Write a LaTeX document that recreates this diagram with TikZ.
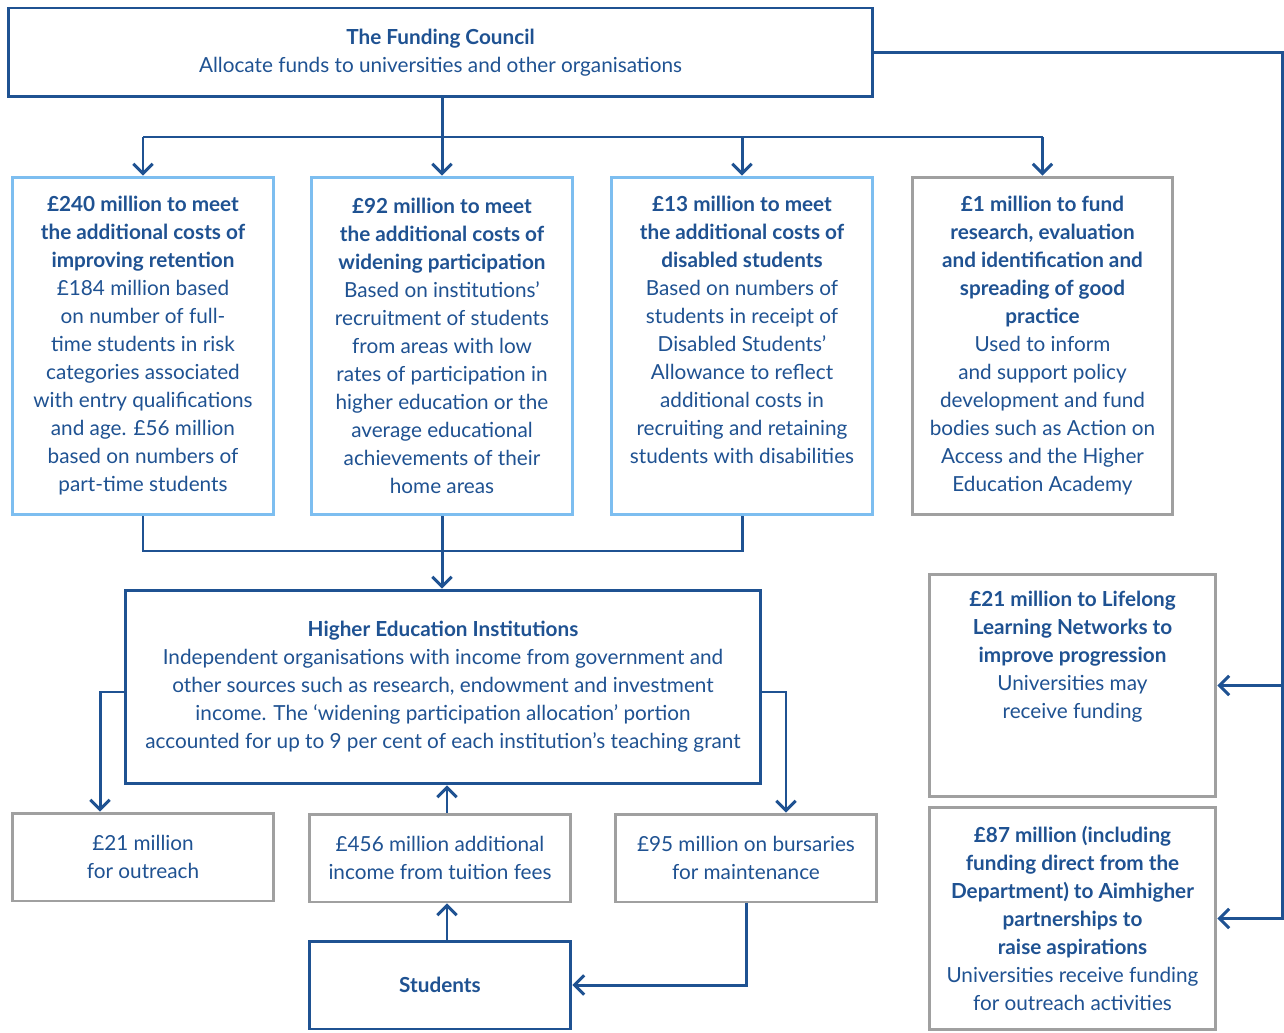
\documentclass[tikz,border=0pt]{standalone}
\usepackage{fontspec}
\setmainfont{Lato}
\usetikzlibrary{arrows.meta, positioning, calc}
\definecolor{hblue}{RGB}{31, 82, 146}
\definecolor{skyblue}{RGB}{125, 190, 240}
\definecolor{boxgrey}{RGB}{160, 160, 160}

\tikzset{
  base/.style={line width=1.7pt, fill=white, align=center, inner sep=0pt, text=hblue,
    font=\fontsize{11.8}{15.93}\selectfont},
  darkbox/.style={base, draw=hblue},
  lightbox/.style={base, draw=skyblue},
  greybox/.style={base, draw=boxgrey},
  txt/.style={align=center, inner sep=0pt, text=hblue, font=\fontsize{11.8}{15.93}\selectfont},
  arr/.style={draw=hblue, line width=1.7pt, -{Straight Barb[length=5.5pt, width=11pt, line width=1.7pt]}},
  link/.style={draw=hblue, line width=1.7pt}
}

\begin{document}
\begin{tikzpicture}[x=0.02cm, y=-0.02cm]
  \useasboundingbox (0,0) rectangle (1284,1033);

  % Funding council
  \node[darkbox, minimum width=17.3cm, minimum height=1.78cm] (fc) at (440.5,52.5)
    {\textbf{The Funding Council}\\Allocate funds to universities and other organisations};

  % Allocation boxes
  \node[lightbox, minimum width=5.24cm, minimum height=6.76cm] (b1) at (143,346)
    {\textbf{£240 million to meet}\\\textbf{the additional costs of}\\\textbf{improving retention}\\
     £184 million based\\on number of full-\\time students in risk\\categories associated\\with entry qualifications\\and age. £56 million\\based on numbers of\\part-time students};
  \node[lightbox, minimum width=5.24cm, minimum height=6.76cm] (b2) at (442,346)
    {\textbf{£92 million to meet}\\\textbf{the additional costs of}\\\textbf{widening participation}\\
     Based on institutions’\\recruitment of students\\from areas with low\\rates of participation in\\higher education or the\\average educational\\achievements of their\\home areas};
  \node[lightbox, minimum width=5.24cm, minimum height=6.76cm] (b3) at (742,346) {};
  \node[txt] (b3t) at (742,330)
    {\textbf{£13 million to meet}\\\textbf{the additional costs of}\\\textbf{disabled students}\\
     Based on numbers of\\students in receipt of\\Disabled Students’\\Allowance to reflect\\additional costs in\\recruiting and retaining\\students with disabilities};
  \node[greybox, minimum width=5.22cm, minimum height=6.76cm] (b4) at (1042.5,346)
    {\textbf{£1 million to fund}\\\textbf{research, evaluation}\\\textbf{and identification and}\\\textbf{spreading of good}\\\textbf{practice}\\
     Used to inform\\and support policy\\development and fund\\bodies such as Action on\\Access and the Higher\\Education Academy};

  % Institutions
  \node[darkbox, minimum width=12.72cm, minimum height=3.88cm] (hei) at (443,687)
    {\textbf{Higher Education Institutions}\\
     Independent organisations with income from government and\\other sources such as research, endowment and investment\\income. The ‘widening participation allocation’ portion\\accounted for up to 9 per cent of each institution’s teaching grant};

  % Spending and income
  \node[greybox, minimum width=5.24cm, minimum height=1.76cm] (outr) at (143,857)
    {£21 million\\for outreach};
  \node[greybox, minimum width=5.24cm, minimum height=1.76cm] (fees) at (440,858)
    {£456 million additional\\income from tuition fees};
  \node[greybox, minimum width=5.24cm, minimum height=1.76cm] (burs) at (746,858)
    {£95 million on bursaries\\for maintenance};
  \node[darkbox, minimum width=5.24cm, minimum height=1.76cm] (stud) at (440,985)
    {\textbf{Students}};

  % Other partnerships
  \node[greybox, minimum width=5.74cm, minimum height=4.46cm] (lln) at (1072.5,685.5) {};
  \node[txt] (llnt) at (1072.5,657)
    {\textbf{£21 million to Lifelong}\\\textbf{Learning Networks to}\\\textbf{improve progression}\\
     Universities may\\receive funding};
  \node[greybox, minimum width=5.74cm, minimum height=4.46cm] (aim) at (1072.5,918.5)
    {\textbf{£87 million (including}\\\textbf{funding direct from the}\\\textbf{Department) to Aimhigher}\\\textbf{partnerships to}\\\textbf{raise aspirations}\\
     Universities receive funding\\for outreach activities};

  % Connectors from the council
  \coordinate (bus) at (442,137);
  \coordinate (rt) at (1282,54);
  \draw[link] (bus -| b1.north) -- (bus -| b4.north);
  \draw[arr] (fc.south -| b2.north) -- (b2.north);
  \foreach \b in {b1, b3, b4}
    \draw[arr] (bus -| \b.north) -- (\b.north);
  \draw[arr] (fc.east) -| (rt |- aim.east) -- (aim.east);
  \draw[arr] (rt |- lln.east) -- (lln.east);

  % Into the institutions
  \coordinate (join) at (442,551);
  \draw[link] (b1.south) |- (join) -| (b3.south);
  \draw[arr] (b2.south) -- (hei.north -| b2.south);

  % Out of the institutions
  \draw[arr] ([yshift=-0.1cm]hei.west) -| ([xshift=-0.86cm]outr.north);
  \draw[arr] ([yshift=-0.1cm]hei.east) -| ([xshift=0.8cm]burs.north);
  \draw[arr] ([xshift=0.14cm]fees.north) -- ([xshift=0.14cm]fees.north |- hei.south);
  \draw[arr] ([xshift=0.14cm]stud.north) -- ([xshift=0.14cm]fees.south);
  \draw[arr] (burs.south) |- (stud.east);
\end{tikzpicture}
\end{document}
